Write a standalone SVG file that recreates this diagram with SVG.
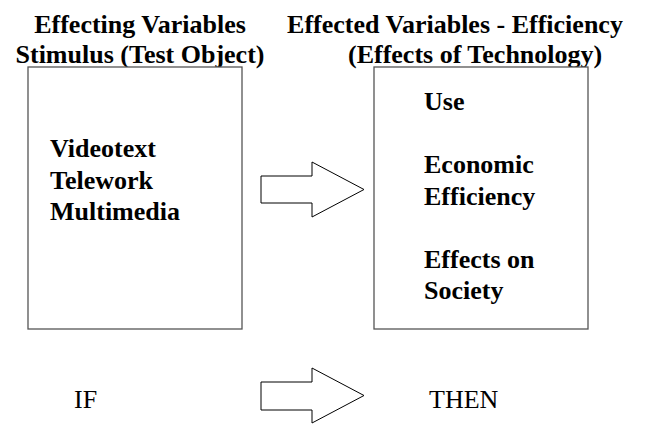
<svg xmlns="http://www.w3.org/2000/svg" width="648" height="424" viewBox="0 0 648 424">
<style>
.t{font-family:"Liberation Serif","Times New Roman",serif;font-size:26px;fill:#000}
.b{font-weight:bold}
.box{fill:#fff;stroke:#555;stroke-width:1.3}
.arr{fill:#fff;stroke:#000;stroke-width:1}
</style>
<rect width="648" height="424" fill="#fff"/>
<g id="header-left">
<text class="t b" x="140" y="33" text-anchor="middle">Effecting Variables</text>
<text class="t b" x="140" y="63" text-anchor="middle">Stimulus (Test Object)</text>
</g>
<g id="header-right">
<text class="t b" x="455" y="33" text-anchor="middle">Effected Variables - Efficiency</text>
<text class="t b" x="348" y="63">(Effects of Technology)</text>
</g>
<g id="stimulus">
<rect class="box" x="28" y="67" width="214" height="262"/>
<text class="t b" x="50" y="157">Videotext</text>
<text class="t b" x="50" y="188.5">Telework</text>
<text class="t b" x="50" y="220">Multimedia</text>
</g>
<g id="effects">
<rect class="box" x="374" y="67" width="214" height="262"/>
<text class="t b" x="424" y="110">Use</text>
<text class="t b" x="424" y="173">Economic</text>
<text class="t b" x="424" y="204.5">Efficiency</text>
<text class="t b" x="424" y="267.5">Effects on</text>
<text class="t b" x="424" y="299">Society</text>
</g>
<g id="if">
<text class="t" x="74" y="408">IF</text>
</g>
<g id="then">
<text class="t" x="429" y="408">THEN</text>
</g>
<g id="connectors">
<path class="arr" d="M261,176 H312 V162 L364,189.5 L312,217 V203 H261 Z"/>
<path class="arr" d="M261,382 H312 V368 L364,395.5 L312,423 V410 H261 Z"/>
</g>
</svg>
